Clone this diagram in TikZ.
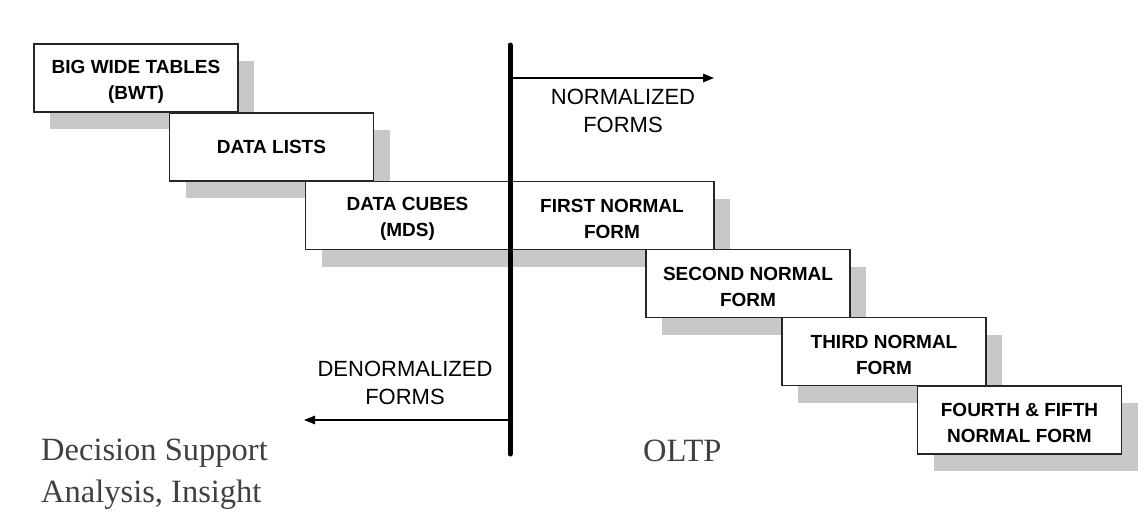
\documentclass[tikz,border=0pt]{standalone}
\usepackage{fontspec}
\setmainfont{Liberation Serif}
\newfontfamily\arialfont{Liberation Sans}
\usetikzlibrary{arrows.meta}
\definecolor{shadowgrey}{HTML}{C8C8C8}
\definecolor{textgrey}{HTML}{404040}
\newcommand\boxstrut{\rule{0pt}{20pt}}
\begin{document}
\begin{tikzpicture}[x=1pt,y=-1pt,
  formbox/.style={draw=black!85,line width=1.3pt,fill=white,minimum width=204pt,minimum height=68pt,inner sep=0pt,align=center,
    font=\arialfont\bfseries\fontsize{19}{26}\selectfont},
  formshadow/.style={fill=shadowgrey,draw=none,minimum width=204pt,minimum height=68pt,inner sep=0pt},
  thinlabel/.style={align=center,font=\arialfont\fontsize{22}{28.5}\selectfont,inner sep=0pt},
  serifnote/.style={font=\fontsize{32.5}{42}\selectfont,text=textgrey,inner sep=0pt},
  dirarrow/.style={line width=1.4pt,-{Triangle[length=11pt,width=8.5pt]}}
]
\useasboundingbox (0,0) rectangle (1148,530);
% shadows
\node[formshadow] (s1) at (152,95) {};
\node[formshadow] (s2) at (287.5,164) {};
\node[formshadow] (s3) at (423.5,232.5) {};
\node[formshadow] (s4) at (628,232.5) {};
\node[formshadow] (s5) at (764,300.5) {};
\node[formshadow] (s6) at (900,368.5) {};
\node[formshadow] (s7) at (1035.5,437) {};
% boxes
\node[formbox] (bwt) at (136,78) {\boxstrut BIG WIDE TABLES\\(BWT)};
\node[formbox] (dl) at (271.5,147) {DATA LISTS};
\node[formbox] (dc) at (407.5,215.5) {\boxstrut DATA CUBES\\(MDS)};
\node[formbox] (fnf) at (612,215.5) {\boxstrut FIRST NORMAL\\FORM};
\node[formbox] (snf) at (748,283.5) {\boxstrut SECOND NORMAL\\FORM};
\node[formbox] (tnf) at (884,351.5) {\boxstrut THIRD NORMAL\\FORM};
\node[formbox] (ffnf) at (1019.5,420) {\boxstrut FOURTH \& FIFTH\\NORMAL FORM};
% divider
\coordinate (dtop) at (510,45);
\coordinate (dbot) at (510,454);
\draw[line width=5pt,line cap=round] (dtop) -- (dbot);
% arrows
\coordinate (nstart) at (510,78);
\coordinate (nend) at (714,78);
\draw[dirarrow] (nstart) -- (nend);
\coordinate (dstart) at (510,420);
\coordinate (dend) at (304,420);
\draw[dirarrow] (dstart) -- (dend);
\node[thinlabel] (normlab) at (623,111) {NORMALIZED\\FORMS};
\node[thinlabel] (denormlab) at (405,383) {DENORMALIZED\\FORMS};
% notes
\node[serifnote,anchor=base west] (ds) at (41,460) {Decision Support};
\node[serifnote,anchor=base west] (ai) at (41,502) {Analysis, Insight};
\node[serifnote,anchor=base west] (oltp) at (643,461) {OLTP};
\end{tikzpicture}
\end{document}
